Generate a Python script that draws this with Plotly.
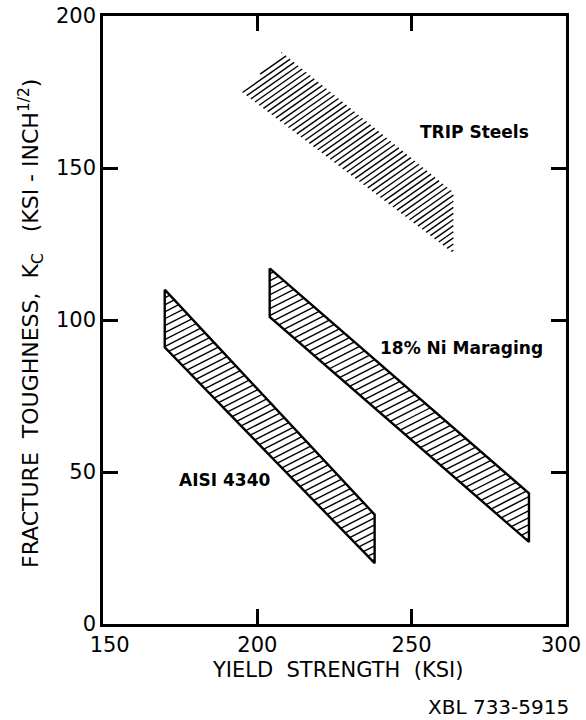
import numpy as np
import plotly.graph_objects as go

# Axis ticks (the 300 label sits at the page edge and is placed separately)
yield_ticks = [150, 200, 250, 300]
yield_tick_text = ["\u00a0\u00a0150", "200", "250", ""]
yield_end_label = "300"
toughness_ticks = [0, 50, 100, 150, 200]

# Scatter bands: yield strength (ksi) vs fracture toughness K_c (ksi-inch^1/2)
aisi_4340_ys = [170, 170, 238, 238]
aisi_4340_kc = [110, 91, 20, 36]

maraging_ys = [204, 204, 288, 288]
maraging_kc = [117, 101, 27, 43]

trip_ys = [195, 208, 263.5, 263.5]
trip_kc = [175, 188, 142, 122]

# Figure geometry
W, H = 586, 720
ML, MR, MT, MB = 103, 20, 16, 96
PW, PH = W - ML - MR, H - MT - MB
X0, X1 = 150, 300
Y0, Y1 = 0, 200
SX = PW / (X1 - X0)
SY = PH / (Y1 - Y0)

FONT = "DejaVu Sans"


def hatch(xs, ys, angle_deg, spacing_px, offset=0.5):
    """Parallel hatch lines clipped to a convex polygon (spacing in screen px)."""
    px = (np.asarray(xs, float) - X0) * SX
    py = (np.asarray(ys, float) - Y0) * SY
    pts = np.column_stack([px, py])
    th = np.radians(angle_deg)
    n = np.array([-np.sin(th), np.cos(th)])
    c_all = pts @ n
    hx, hy = [], []
    cs = np.arange(c_all.min() + spacing_px * offset, c_all.max(), spacing_px)
    m = len(pts)
    for c in cs:
        hits = []
        for i in range(m):
            a, b = pts[i], pts[(i + 1) % m]
            ca, cb = a @ n, b @ n
            if (ca - c) * (cb - c) < 0:
                t = (c - ca) / (cb - ca)
                hits.append(a + t * (b - a))
        if len(hits) >= 2:
            hits = sorted(hits, key=lambda p: p[0])
            p, q = hits[0], hits[-1]
            hx += [p[0] / SX + X0, q[0] / SX + X0, None]
            hy += [p[1] / SY + Y0, q[1] / SY + Y0, None]
    return hx, hy


fig = go.Figure()

bands = [
    (aisi_4340_ys, aisi_4340_kc, 27, 6.2, True),
    (maraging_ys, maraging_kc, 27, 6.2, True),
    (trip_ys, trip_kc, 35, 5.0, False),
]
for xs, ys, ang, sp, outline in bands:
    hx, hy = hatch(xs, ys, ang, sp)
    fig.add_trace(go.Scatter(x=hx, y=hy, mode="lines",
                             line=dict(color="black", width=1.4),
                             hoverinfo="skip", showlegend=False))
    if outline:
        fig.add_trace(go.Scatter(x=list(xs) + [xs[0]], y=list(ys) + [ys[0]],
                                 mode="lines",
                                 line=dict(color="black", width=2.4),
                                 hoverinfo="skip", showlegend=False))

# Band labels
labels = [
    ("TRIP Steels", 270.5, 161.8),
    ("18% Ni Maraging", 266, 90.8),
    ("AISI 4340", 189.5, 47.4),
]
for txt, x, y in labels:
    fig.add_annotation(x=x, y=y, text=txt, showarrow=False,
                       xanchor="center", yanchor="middle",
                       font=dict(family=FONT, size=17, color="black", weight="bold"))


def paper_note(text, cx, cy, size, angle=0):
    fig.add_annotation(xref="paper", yref="paper",
                       x=(cx - ML) / PW, y=(MT + PH - cy) / PH,
                       xanchor="center", yanchor="middle",
                       text=text, textangle=angle, showarrow=False,
                       font=dict(family=FONT, size=size, color="black"))


# Axis titles, end tick label and figure code
paper_note("YIELD  STRENGTH  (KSI)", 337, 670, 21)
paper_note("FRACTURE  TOUGHNESS,  K<sub>C</sub>   (KSI - INCH<sup>1/2</sup>)", 31, 324, 22, -90)
paper_note(yield_end_label, 561, 645, 21)
paper_note("XBL 733-5915", 498, 707, 20)

axis_common = dict(showgrid=False, zeroline=False, showline=True, mirror="ticks",
                   linecolor="black", linewidth=2.5, ticks="inside", ticklen=15,
                   tickwidth=2.5, tickcolor="black", ticklabeloverflow="allow",
                   automargin=False,
                   tickfont=dict(family=FONT, size=21, color="black"))

fig.update_xaxes(range=[X0, X1], tickvals=yield_ticks, ticktext=yield_tick_text,
                 **axis_common)
fig.update_yaxes(range=[Y0, Y1], tickvals=toughness_ticks, **axis_common)

fig.update_layout(width=W, height=H, margin=dict(l=ML, r=MR, t=MT, b=MB, autoexpand=False),
                  paper_bgcolor="white", plot_bgcolor="white",
                  font=dict(family=FONT, color="black"))

fig.write_html("out.html")
